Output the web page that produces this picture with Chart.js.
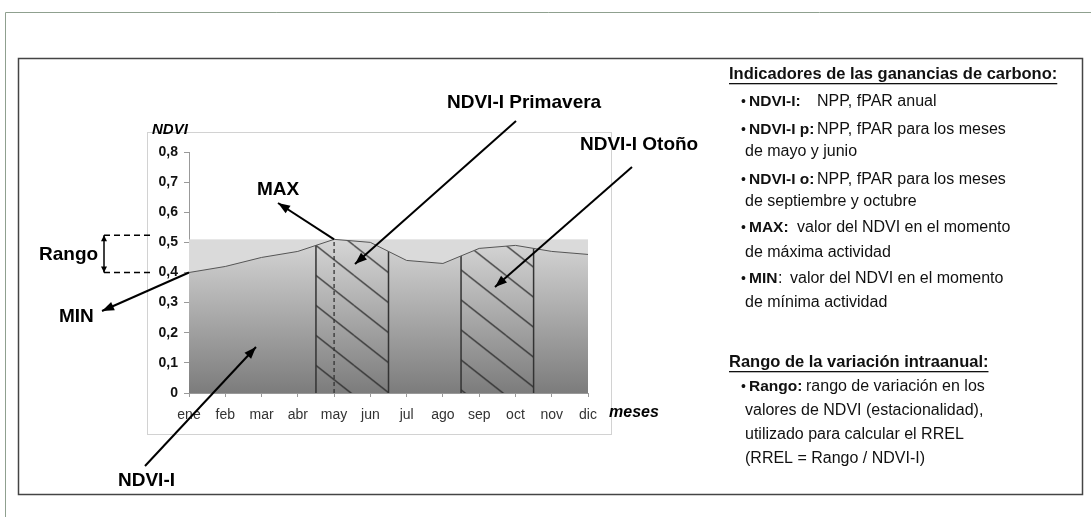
<!DOCTYPE html>
<html>
<head>
<meta charset="utf-8">
<script src="https://cdn.jsdelivr.net/npm/chart.js@4.4.0/dist/chart.umd.min.js"></script>
<style>
    html, body { margin: 0; padding: 0; background: #fff; }
    #wrap { position: relative; width: 1091px; height: 517px; }
</style>
</head>
<body>
<div id="wrap"><canvas id="ndviChart" width="1091" height="517"></canvas></div>
<script>
// data
const months = ['ene', 'feb', 'mar', 'abr', 'may', 'jun', 'jul', 'ago', 'sep', 'oct', 'nov', 'dic'];
const ndvi = [0.40, 0.42, 0.45, 0.47, 0.51, 0.50, 0.44, 0.43, 0.48, 0.49, 0.47, 0.46];
const yTickLabels = ['0', '0,1', '0,2', '0,3', '0,4', '0,5', '0,6', '0,7', '0,8'];
const springMonths = ['may', 'jun'];
const autumnMonths = ['sep', 'oct'];

const FONT = '"Liberation Sans", Arial, sans-serif';

// right hand notes: [text, style, x]   style: t = title, b = bold, '' = normal
const notes = [
    { y: 74, parts: [['Indicadores de las ganancias de carbono:', 't', 729]], underline: true },
    { y: 102, parts: [['•', '', 741], ['NDVI-I:', 'b', 749], ['NPP, fPAR anual', '', 817]] },
    { y: 130, parts: [['•', '', 741], ['NDVI-I p:', 'b', 749], ['NPP, fPAR para los meses', '', 817]] },
    { y: 152, parts: [['de mayo y junio', '', 745]] },
    { y: 180, parts: [['•', '', 741], ['NDVI-I o:', 'b', 749], ['NPP, fPAR para los meses', '', 817]] },
    { y: 202, parts: [['de septiembre y octubre', '', 745]] },
    { y: 228, parts: [['•', '', 741], ['MAX:', 'b', 749], ['valor del NDVI en el momento', '', 797]] },
    { y: 253, parts: [['de máxima actividad', '', 745]] },
    { y: 279, parts: [['•', '', 741], ['MIN', 'b', 749], [':', '', 778], ['valor del NDVI en el momento', '', 790]] },
    { y: 303, parts: [['de mínima actividad', '', 745]] },
    { y: 362, parts: [['Rango de la variación intraanual:', 't', 729]], underline: true },
    { y: 387, parts: [['•', '', 741], ['Rango:', 'b', 749], ['rango de variación en los', '', 806]] },
    { y: 411, parts: [['valores de NDVI (estacionalidad),', '', 745]] },
    { y: 435, parts: [['utilizado para calcular el RREL', '', 745]] },
    { y: 459, parts: [['(RREL = Rango / NDVI-I)', '', 745]] }
];

function arrow(ctx, x1, y1, x2, y2, len, wid) {
    ctx.beginPath();
    ctx.moveTo(x1, y1);
    ctx.lineTo(x2, y2);
    ctx.stroke();
    const a = Math.atan2(y2 - y1, x2 - x1);
    ctx.beginPath();
    ctx.moveTo(x2, y2);
    ctx.lineTo(x2 - len * Math.cos(a) + wid * Math.sin(a), y2 - len * Math.sin(a) - wid * Math.cos(a));
    ctx.lineTo(x2 - len * Math.cos(a) - wid * Math.sin(a), y2 - len * Math.sin(a) + wid * Math.cos(a));
    ctx.closePath();
    ctx.fill();
}

const ctx = document.getElementById('ndviChart').getContext('2d');

// hatch tile for the seasonal areas
const tile = document.createElement('canvas');
tile.width = 38;
tile.height = 30;
const tctx = tile.getContext('2d');
tctx.strokeStyle = '#222';
tctx.lineWidth = 1.1;
[-30, 0, 30].forEach(function (d) {
    tctx.beginPath();
    tctx.moveTo(0, d);
    tctx.lineTo(38, 30 + d);
    tctx.stroke();
});
const hatch = ctx.createPattern(tile, 'repeat');

const framePlugin = {
    id: 'frame',
    beforeDraw(chart) {
        const c = chart.ctx;
        c.save();
        c.fillStyle = '#fff';
        c.fillRect(0, 0, chart.width, chart.height);
        // outer page lines
        c.strokeStyle = '#8fa08f';
        c.lineWidth = 1;
        c.beginPath();
        c.moveTo(5.5, chart.height);
        c.lineTo(5.5, 12.5);
        c.lineTo(chart.width, 12.5);
        c.stroke();
        // inner box
        c.strokeStyle = '#444';
        c.lineWidth = 1.5;
        c.strokeRect(18.5, 58.5, 1064, 436);
        // chart frame
        c.strokeStyle = '#d2d2d2';
        c.lineWidth = 1;
        c.strokeRect(147.5, 132.5, 464, 302);
        c.restore();
    },
    beforeDatasetsDraw(chart) {
        const { ctx: c, scales } = chart;
        const xa = scales.x.getPixelForValue(0);
        const xb = scales.x.getPixelForValue(months.length - 1);
        const yt = scales.y.getPixelForValue(Math.max(...ndvi));
        const yb = scales.y.getPixelForValue(0);
        c.save();
        c.fillStyle = '#dadada';
        c.fillRect(xa, yt, xb - xa, yb - yt);
        c.restore();
    },
    beforeDatasetDraw(chart, args) {
        if (args.index !== 0) return;
        const { ctx: c, scales, chartArea } = chart;
        const pts = chart.getDatasetMeta(0).data;
        const y0 = scales.y.getPixelForValue(0);
        c.save();
        c.beginPath();
        c.moveTo(pts[0].x, y0);
        pts.forEach(function (p) { c.lineTo(p.x, p.y); });
        c.lineTo(pts[pts.length - 1].x, y0);
        c.closePath();
        c.clip();

        const sx = scales.x.getPixelForValue(months.indexOf(springMonths[0]) - 0.5);
        const i0 = months.indexOf(springMonths[0]);
        const f = (sx - pts[i0 - 1].x) / (pts[i0].x - pts[i0 - 1].x);
        const sy = pts[i0 - 1].y + f * (pts[i0].y - pts[i0 - 1].y);
        hatch.setTransform(new DOMMatrix([1, 0, 0, 1, sx, sy]));

        [springMonths, autumnMonths].forEach(function (group) {
            const xa = scales.x.getPixelForValue(months.indexOf(group[0]) - 0.5);
            const xb = scales.x.getPixelForValue(months.indexOf(group[group.length - 1]) + 0.5);
            c.fillStyle = hatch;
            c.fillRect(xa, chartArea.top, xb - xa, y0 - chartArea.top);
            c.strokeStyle = '#333';
            c.lineWidth = 1.5;
            c.beginPath();
            c.moveTo(xa, y0);
            c.lineTo(xa, chartArea.top);
            c.moveTo(xb, y0);
            c.lineTo(xb, chartArea.top);
            c.stroke();
        });

        const iMax = ndvi.indexOf(Math.max(...ndvi));
        c.strokeStyle = '#333';
        c.lineWidth = 1.3;
        c.setLineDash([4, 3]);
        c.beginPath();
        c.moveTo(pts[iMax].x, y0);
        c.lineTo(pts[iMax].x, pts[iMax].y);
        c.stroke();
        c.restore();
    },
    afterDraw(chart) {
        const { ctx: c, scales } = chart;
        const pts = chart.getDatasetMeta(0).data;
        const iMax = ndvi.indexOf(Math.max(...ndvi));
        const iMin = ndvi.indexOf(Math.min(...ndvi));
        c.save();
        c.textBaseline = 'middle';
        c.fillStyle = '#000';

        // axis titles
        c.font = 'italic bold 15px ' + FONT;
        c.fillText('NDVI', 152, 130);
        c.font = 'italic bold 16px ' + FONT;
        c.fillText('meses', 609, 413);

        // labels
        c.font = 'bold 19px ' + FONT;
        c.fillText('NDVI-I Primavera', 447, 103);
        c.fillText('NDVI-I Otoño', 580, 145);
        c.fillText('MAX', 257, 190);
        c.fillText('MIN', 59, 317);
        c.fillText('Rango', 39, 255);
        c.fillText('NDVI-I', 118, 481);

        c.strokeStyle = '#000';
        c.lineWidth = 2;
        arrow(c, 516, 121, 355, 264, 12, 4.5);
        arrow(c, 632, 167, 495, 287, 12, 4.5);
        arrow(c, pts[iMax].x, pts[iMax].y, 278, 203, 12, 4.5);
        arrow(c, pts[iMin].x, pts[iMin].y, 102, 311, 12, 4.5);
        arrow(c, 145, 466, 256, 347, 12, 4.5);

        // rango bracket
        const yHi = scales.y.getPixelForValue(ndvi[iMax]) - 4;
        const yLo = scales.y.getPixelForValue(ndvi[iMin]);
        c.lineWidth = 1.5;
        c.setLineDash([6, 4]);
        c.beginPath();
        c.moveTo(104, yHi);
        c.lineTo(151, yHi);
        c.moveTo(104, yLo);
        c.lineTo(151, yLo);
        c.stroke();
        c.setLineDash([]);
        const ym = (yHi + yLo) / 2;
        arrow(c, 104, ym, 104, yHi, 6, 3);
        arrow(c, 104, ym, 104, yLo, 6, 3);

        // notes on the right
        notes.forEach(function (line) {
            line.parts.forEach(function (p) {
                let font = '16px ';
                if (p[0] === '•') font = '14px ';
                else if (p[1] === 't') font = 'bold 16.5px ';
                else if (p[1] === 'b') font = 'bold 15.5px ';
                c.font = font + FONT;
                c.fillStyle = '#111';
                c.fillText(p[0], p[2], line.y);
                if (line.underline) {
                    const w = c.measureText(p[0]).width;
                    c.fillRect(p[2], line.y + 9, w, 1.3);
                }
            });
        });
        c.restore();
    }
};

new Chart(ctx, {
    type: 'line',
    data: {
        datasets: [{
            label: 'NDVI',
            data: months.map(function (m, i) { return { x: i, y: ndvi[i] }; }),
            borderColor: '#555',
            borderWidth: 1,
            pointRadius: 0,
            tension: 0,
            fill: 'origin',
            backgroundColor: function (context) {
                const chart = context.chart;
                if (!chart.chartArea) return 'rgba(0,0,0,0)';
                const g = chart.ctx.createLinearGradient(0, chart.scales.y.getPixelForValue(Math.max(...ndvi)), 0, chart.scales.y.getPixelForValue(0));
                g.addColorStop(0, '#d6d6d6');
                g.addColorStop(1, '#7c7c7c');
                return g;
            }
        }]
    },
    options: {
        responsive: false,
        animation: false,
        devicePixelRatio: 1,
        layout: {
            padding: { left: 149, right: 503, top: 152, bottom: 94 }
        },
        plugins: {
            legend: { display: false },
            tooltip: { enabled: false }
        },
        scales: {
            x: {
                type: 'linear',
                min: 0,
                max: months.length - 1,
                afterFit: function (s) { s.height = 30; },
                ticks: {
                    stepSize: 1,
                    padding: 10,
                    color: '#333',
                    font: { family: FONT, size: 14 },
                    callback: function (v) { return months[v]; }
                },
                grid: { drawOnChartArea: false, drawTicks: true, tickLength: 4, color: '#999' },
                border: { display: true, color: '#999' }
            },
            y: {
                min: 0,
                max: 0.8,
                afterFit: function (s) { s.width = 40; },
                ticks: {
                    stepSize: 0.1,
                    padding: 6,
                    color: '#111',
                    font: { family: FONT, size: 14, weight: 'bold' },
                    callback: function (v, i) { return yTickLabels[i]; }
                },
                grid: { drawOnChartArea: false, drawTicks: true, tickLength: 5, color: '#999' },
                border: { display: true, color: '#999' }
            }
        }
    },
    plugins: [framePlugin]
});
</script>
</body>
</html>
